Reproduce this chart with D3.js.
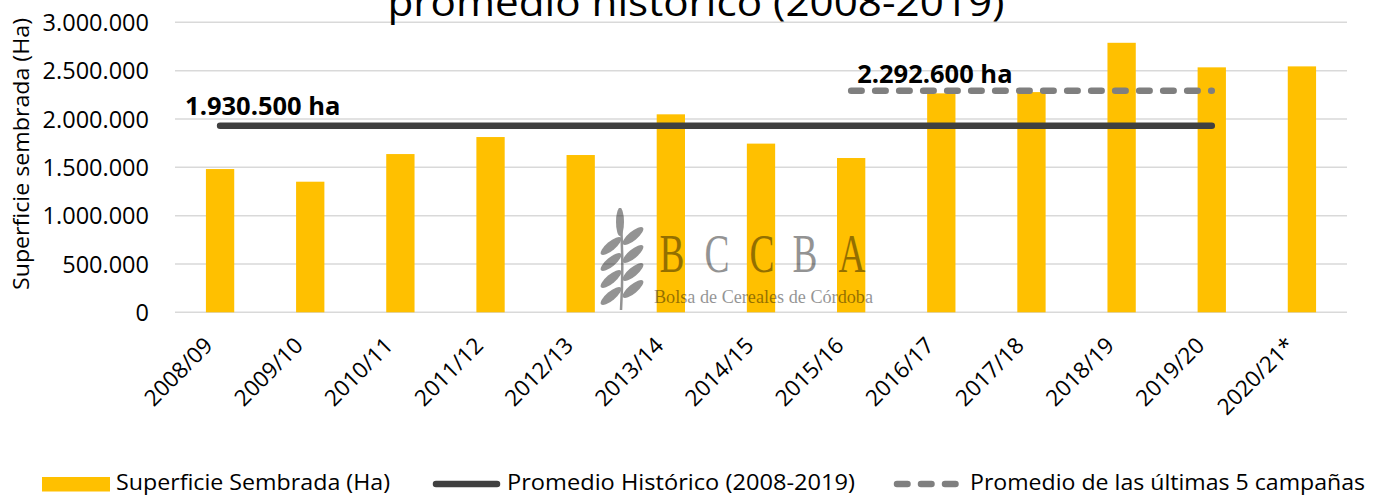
<!DOCTYPE html>
<html><head><meta charset="utf-8">
<script src="https://cdn.jsdelivr.net/npm/d3@7"></script>
<style>
html,body{margin:0;padding:0;background:#fff;overflow:hidden}
svg{display:block;font-family:"Open Sans",sans-serif}
</style></head>
<body><svg id="c" width="1379" height="495"></svg>
<script>
const categories = ["2008/09","2009/10","2010/11","2011/12","2012/13","2013/14","2014/15","2015/16","2016/17","2017/18","2018/19","2019/20","2020/21*"];
const seeded = [1482000,1351000,1637000,1813000,1627000,2048000,1745000,1596000,2265000,2278000,2788000,2534000,2544000];
const histAvg = 1930500;
const last5Avg = 2292600;
const histCats = categories.slice(0,12);
const last5Cats = categories.slice(7,12);
const yTicks = [0,500000,1000000,1500000,2000000,2500000,3000000];
const titleText = "promedio histórico (2008-2019)";
const yTitle = "Superficie sembrada (Ha)";
const legendLabels = ["Superficie Sembrada (Ha)","Promedio Histórico (2008-2019)","Promedio de las últimas 5 campañas"];

const svg = d3.select("#c");
const loc = d3.formatLocale({decimal:",",thousands:".",grouping:[3],currency:["$",""]});
const fmt = loc.format(",.0f");

const x = d3.scaleBand().domain(categories).range([175,1347]).paddingInner(0.686).paddingOuter(0.343);
const xc = c => x(c) + x.bandwidth()/2;
const y = d3.scaleLinear().domain([0,3000000]).range([312.3,22.3]);

// grid
svg.append("g").selectAll("line").data(yTicks).join("line")
  .attr("x1",175).attr("x2",1347).attr("y1",d=>y(d)).attr("y2",d=>y(d))
  .attr("stroke","#d9d9d9").attr("stroke-width",1.5);

// y axis labels
const yAxis = d3.axisLeft(y).tickValues(yTicks).tickFormat(fmt).tickSize(0).tickPadding(0);
const ya = svg.append("g").attr("transform","translate(149,0)").call(yAxis);
ya.select(".domain").remove();
ya.selectAll("text").attr("font-size",23.5).attr("fill","#000").attr("font-family","'Open Sans',sans-serif").attr("dy","0.35em");

// y title
svg.append("text").attr("transform","translate(29,154) rotate(-90)").attr("text-anchor","middle")
  .attr("font-size",22).attr("fill","#000").attr("textLength",272).attr("lengthAdjust","spacingAndGlyphs").text(yTitle);

// title (second line, partially cut off in the original too)
svg.append("text").attr("x",696).attr("y",15.5).attr("text-anchor","middle")
  .attr("font-size",38).attr("fill","#000").attr("textLength",617).attr("lengthAdjust","spacingAndGlyphs").text(titleText);

// bars
svg.append("g").selectAll("rect").data(categories).join("rect")
  .attr("x",d=>x(d)).attr("width",x.bandwidth())
  .attr("y",(d,i)=>y(seeded[i])).attr("height",(d,i)=>y(0)-y(seeded[i]))
  .attr("fill","#FFC000");

// x labels
const xAxis = d3.axisBottom(x).tickSize(0).tickPadding(0);
const xa = svg.append("g").call(xAxis);
xa.select(".domain").remove();
xa.selectAll("g.tick").attr("transform",d=>`translate(${xc(d)-6},347)`);
xa.selectAll("text").attr("font-size",22.5).attr("fill","#000").attr("font-family","'Open Sans',sans-serif")
  .attr("text-anchor","end").attr("dy",0).attr("y",0).attr("transform","rotate(-45)");

// watermark
const wm = svg.append("g").attr("fill","#000").attr("opacity",0.42);
const stem = d3.path(); stem.moveTo(620,208); stem.quadraticCurveTo(624,260,621,310);
wm.append("path").attr("d",stem.toString()).attr("stroke","#000").attr("stroke-width",2.5).attr("fill","none");
const leaf = (cx,cy,rx,ry,ang)=>wm.append("ellipse").attr("cx",0).attr("cy",0).attr("rx",rx).attr("ry",ry)
  .attr("transform",`translate(${cx},${cy}) rotate(${ang})`);
leaf(620,222,4,14,0);
[246,262,279,296].forEach(yy=>leaf(611,yy,13,4.5,-40));
[236,254,272,289].forEach(yy=>leaf(633,yy,13,4.5,-40+80-80));
const letters = ["B","C","C","B","A"], lx=[672,717,762,805,852];
letters.forEach((l,i)=>wm.append("text").attr("transform",`translate(${lx[i]},272) scale(0.68,1)`)
  .attr("text-anchor","middle").attr("font-family","'Liberation Serif',serif").attr("font-size",55).text(l));
wm.append("text").attr("x",654).attr("y",303).attr("font-family","'Liberation Serif',serif").attr("font-size",18)
  .attr("textLength",219).attr("lengthAdjust","spacingAndGlyphs").text("Bolsa de Cereales de Córdoba");

// lines
const line = d3.line().x(d=>xc(d.c)).y(d=>y(d.v));
svg.append("path").datum(histCats.map(c=>({c,v:histAvg}))).attr("d",line)
  .attr("fill","none").attr("stroke","#404040").attr("stroke-width",6.5).attr("stroke-linecap","round");
svg.append("path").datum(last5Cats.map(c=>({c,v:last5Avg}))).attr("d",line)
  .attr("fill","none").attr("stroke","#7f7f7f").attr("stroke-width",6.5).attr("stroke-linecap","round")
  .attr("stroke-dasharray","10.5,13.5");

// annotation labels
svg.append("text").attr("x",xc(categories[0])-35).attr("y",y(histAvg)-10.5)
  .attr("font-size",25.5).attr("font-weight","bold").attr("fill","#000").text(fmt(histAvg)+" ha");
svg.append("text").attr("x",xc(categories[7])+6).attr("y",y(last5Avg)-8)
  .attr("font-size",25.5).attr("font-weight","bold").attr("fill","#000").text(fmt(last5Avg)+" ha");

// legend
const lg = svg.append("g");
lg.append("rect").attr("x",42).attr("y",477).attr("width",68).attr("height",14.5).attr("fill","#FFC000");
lg.append("text").attr("x",116).attr("y",489.5).attr("font-size",22).attr("textLength",274).attr("lengthAdjust","spacingAndGlyphs").text(legendLabels[0]);
lg.append("line").attr("x1",436).attr("x2",497).attr("y1",484).attr("y2",484).attr("stroke","#404040").attr("stroke-width",6.5).attr("stroke-linecap","round");
lg.append("text").attr("x",507).attr("y",489.5).attr("font-size",22).attr("textLength",348).attr("lengthAdjust","spacingAndGlyphs").text(legendLabels[1]);
lg.append("line").attr("x1",897).attr("x2",958).attr("y1",484).attr("y2",484).attr("stroke","#7f7f7f").attr("stroke-width",6.5).attr("stroke-linecap","round").attr("stroke-dasharray","10.5,13.5");
lg.append("text").attr("x",970).attr("y",489.5).attr("font-size",22).attr("textLength",395).attr("lengthAdjust","spacingAndGlyphs").text(legendLabels[2]);
</script></body></html>
